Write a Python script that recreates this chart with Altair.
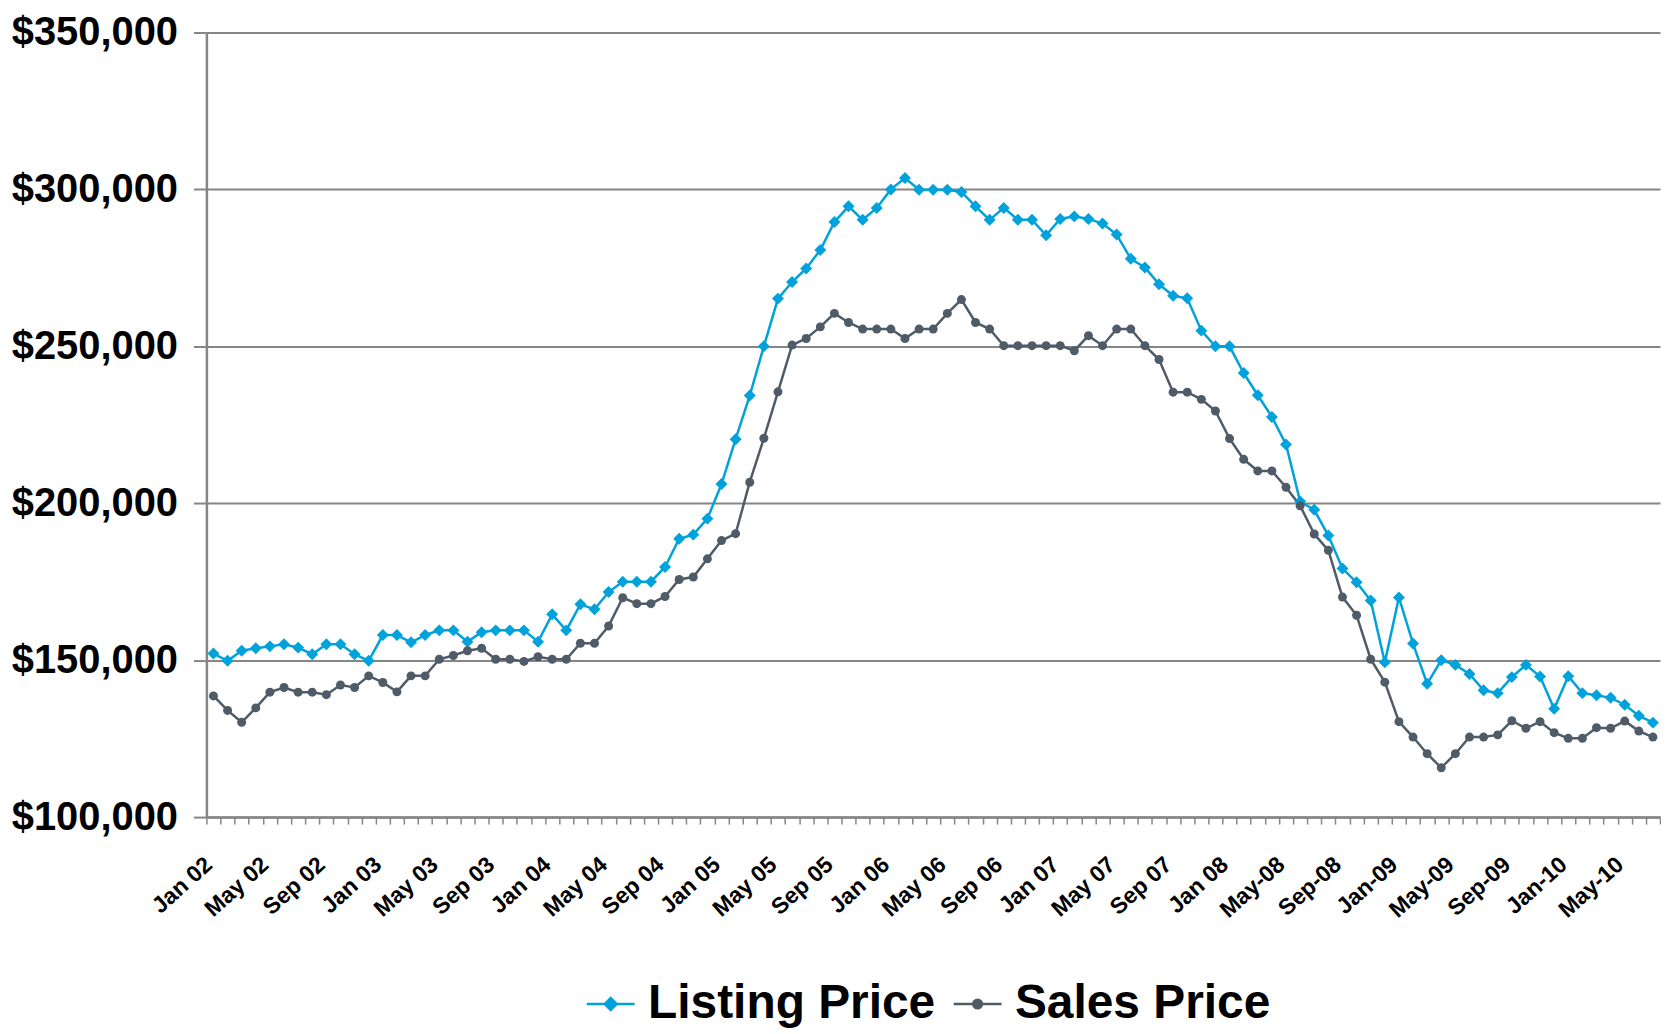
import json
import altair as alt
import pandas as pd

# ---- data (values in thousands of dollars) ----
tick_labels = ["Jan 02", "May 02", "Sep 02", "Jan 03", "May 03", "Sep 03", "Jan 04", "May 04",
               "Sep 04", "Jan 05", "May 05", "Sep 05", "Jan 06", "May 06", "Sep 06", "Jan 07",
               "May 07", "Sep 07", "Jan 08", "May-08", "Sep-08", "Jan-09", "May-09", "Sep-09",
               "Jan-10", "May-10"]

month_abbr = ["Jan", "Feb", "Mar", "Apr", "May", "Jun", "Jul", "Aug", "Sep", "Oct", "Nov", "Dec"]
months = []
for k in range(103):
    yy = 2 + k // 12
    mi = k % 12
    sep = "-" if (yy > 8 or (yy == 8 and mi >= 4)) else " "
    months.append(f"{month_abbr[mi]}{sep}{yy:02d}")

listing = [
    152.1, 149.8, 153.0, 153.8, 154.4, 155.1, 154.0, 151.9, 155.1, 155.1,
    151.9, 149.8, 158.0, 158.0, 155.7, 158.0, 159.5, 159.5, 155.9, 158.9,
    159.5, 159.5, 159.5, 155.9, 164.6, 159.5, 167.8, 166.2, 171.7, 175.0,
    175.0, 175.0, 179.7, 188.7, 190.0, 195.1, 206.1, 220.4, 234.3, 250.0,
    265.2, 270.5, 274.8, 280.7, 289.6, 294.6, 290.3, 294.1, 300.0, 303.6,
    299.9, 299.9, 299.9, 299.2, 294.6, 290.3, 294.1, 290.3, 290.3, 285.4,
    290.6, 291.4, 290.6, 289.1, 285.6, 277.9, 275.1, 269.8, 266.1, 265.3,
    255.0, 250.0, 250.0, 241.5, 234.4, 227.5, 218.7, 200.6, 197.9, 189.7,
    179.2, 174.8, 169.0, 149.3, 170.0, 155.3, 142.5, 150.0, 148.5, 145.6,
    140.4, 139.5, 144.6, 148.5, 144.8, 134.5, 144.9, 139.5, 138.8, 138.0,
    135.8, 132.3, 130.1,
]

sales = [
    138.6, 134.0, 130.2, 134.8, 139.8, 141.3, 139.8, 139.8, 139.0, 142.1,
    141.3, 145.0, 142.9, 139.9, 145.0, 145.0, 150.3, 151.5, 153.0, 153.8,
    150.3, 150.3, 149.6, 151.1, 150.3, 150.3, 155.4, 155.4, 160.9, 169.9,
    168.0, 168.0, 170.3, 175.7, 176.5, 182.3, 188.1, 190.3, 206.7, 220.7,
    235.5, 250.4, 252.5, 256.2, 260.5, 257.6, 255.5, 255.5, 255.5, 252.5,
    255.5, 255.5, 260.5, 264.9, 257.6, 255.5, 250.2, 250.2, 250.2, 250.2,
    250.2, 248.6, 253.4, 250.2, 255.5, 255.5, 250.2, 245.8, 235.4, 235.4,
    233.1, 229.4, 220.6, 214.0, 210.3, 210.3, 205.1, 199.2, 190.2, 185.0,
    170.1, 164.3, 150.3, 143.0, 130.4, 125.5, 120.2, 115.7, 120.2, 125.5,
    125.5, 126.2, 130.7, 128.3, 130.4, 126.9, 125.1, 125.1, 128.5, 128.3,
    130.6, 127.4, 125.5,
]

series_names = ["Listing Price", "Sales Price"]
y_ticks = [100000, 150000, 200000, 250000, 300000, 350000]

df = pd.DataFrame({
    "month": months + months,
    "price": [v * 1000 for v in listing] + [v * 1000 for v in sales],
    "series": [series_names[0]] * len(listing) + [series_names[1]] * len(sales),
})

# ---- styles ----
FONT = "Liberation Sans, Arial, sans-serif"
BLUE = "#00A2DB"
SLATE = "#4F5B67"
GRAY = "#858585"

label_expr = "indexof(" + json.dumps(tick_labels) + ", datum.value) >= 0 ? datum.value : ''"

x_enc = alt.X(
    "month:O", sort=months, bandPosition=0.5,
    scale=alt.Scale(type="band", paddingInner=0, paddingOuter=0),
    axis=alt.Axis(
        title=None, tickBand="extent", labelExpr=label_expr, labelAngle=-42,
        labelAlign="right", labelBaseline="middle", labelFont=FONT, labelFontSize=23,
        labelFontWeight="bold", labelColor="black", labelPadding=37, labelOffset=-5,
        labelOverlap=False, labelLimit=0, tickSize=7, tickColor=GRAY, tickWidth=1.5,
        domainColor=GRAY, domainWidth=2.5, grid=False,
    ),
)

y_enc = alt.Y(
    "price:Q",
    scale=alt.Scale(domain=[100000, 350000], nice=False, zero=False),
    axis=alt.Axis(
        title=None, values=y_ticks, format="$,.0f", labelFont=FONT, labelFontSize=40,
        labelFontWeight="bold", labelColor="black", labelPadding=16, labelLimit=0,
        tickSize=13, tickColor=GRAY, tickWidth=2, domainColor=GRAY, domainWidth=2.5,
        gridColor=GRAY, gridWidth=2,
    ),
)

diamond_path = "M-1,0L1,0M-0.25,0L0,-0.25L0.25,0L0,0.25Z"
circle_path = "M-1,0L1,0M-0.18,0A0.18,0.18,0,1,0,0.18,0A0.18,0.18,0,1,0,-0.18,0Z"


def legend_for(path, color, x):
    return alt.Legend(
        title=None, orient="none", legendX=x, legendY=949, direction="horizontal",
        labelFont=FONT, labelFontSize=48, labelFontWeight="bold", labelColor="black",
        symbolType=path, symbolSize=2304, symbolStrokeWidth=2.5, symbolFillColor=color,
        symbolStrokeColor=color, labelOffset=12, labelLimit=0,
    )


base = alt.Chart(df)
listing_base = base.transform_filter(alt.datum.series == series_names[0])
sales_base = base.transform_filter(alt.datum.series == series_names[1])

line_listing = listing_base.mark_line(strokeWidth=2.5).encode(
    x=x_enc, y=y_enc,
    color=alt.Color("series:N", scale=alt.Scale(domain=[series_names[0]], range=[BLUE]),
                    legend=legend_for(diamond_path, BLUE, 380)),
)
line_sales = sales_base.mark_line(strokeWidth=2.5).encode(
    x=x_enc, y=y_enc,
    stroke=alt.Stroke("series:N", scale=alt.Scale(domain=[series_names[1]], range=[SLATE]),
                      legend=legend_for(circle_path, SLATE, 748)),
)
pts_listing = listing_base.mark_point(
    shape="diamond", filled=True, opacity=1, size=144, color=BLUE
).encode(x=x_enc, y=y_enc)
pts_sales = sales_base.mark_point(
    shape="circle", filled=True, opacity=1, size=81, color=SLATE
).encode(x=x_enc, y=y_enc)

chart = alt.layer(line_listing, line_sales, pts_listing, pts_sales).properties(
    width=1458, height=787,
    padding={"left": 3, "top": 3, "right": 0, "bottom": 0},
    background="white",
).configure_view(stroke=None)

chart.save("out.html", embed_options={"renderer": "svg", "actions": False})
